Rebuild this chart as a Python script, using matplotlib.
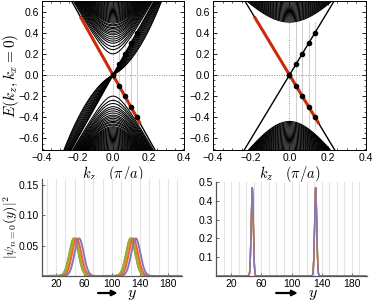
import numpy as np
import matplotlib
matplotlib.use("Agg")
import matplotlib.pyplot as plt

plt.rcParams['font.family'] = ['Liberation Sans', 'DejaVu Sans']
plt.rcParams['mathtext.fontset'] = 'cm'

# ---- data ----
# dots on the surface-state branches (kz, E)
dot_kz = [0.0, 0.033, 0.067, 0.1, 0.133]
dot_up = [0.0, 0.1, 0.2, 0.3, 0.4]
dot_dn = [0.0, -0.1, -0.2, -0.3, -0.4]
vline_kz = [0.033, 0.067, 0.1, 0.133]

# surface state velocity and red branch extent
v_surf = 3.0
red_kz = [-0.18, 0.15]

# left panel: bulk subband gaps at kz=0 (hyperbolas, velocity 3)
gaps_left = [0.2, 0.24, 0.27, 0.3, 0.32, 0.34, 0.36, 0.38, 0.395, 0.41,
             0.425, 0.44, 0.45, 0.465, 0.475, 0.49, 0.5, 0.51, 0.52, 0.53,
             0.54, 0.55, 0.56, 0.57, 0.58, 0.59, 0.6, 0.61, 0.62, 0.63,
             0.64, 0.65, 0.66, 0.67, 0.68, 0.69, 0.7, 0.71]
# left panel: fan of bulk curves through origin, E = a*k + b*k*|k|
fan_a = [0.84, 1.0, 1.2, 1.4, 1.6, 1.8, 2.0, 2.2, 2.4, 2.6, 2.8]
fan_b = [6.25, 5.8, 5.3, 4.8, 4.3, 3.8, 3.2, 2.6, 2.0, 1.4, 0.8]

# right panel: gapped bulk blocks
gaps_right_up = [0.5, 0.51, 0.52, 0.53, 0.54, 0.55, 0.56, 0.57, 0.58, 0.59,
                 0.6, 0.61, 0.62, 0.63, 0.64, 0.65, 0.66, 0.67, 0.68, 0.69,
                 0.7, 0.71]
gaps_right_dn = [0.44, 0.45, 0.46, 0.47, 0.48, 0.49, 0.5, 0.51, 0.52, 0.53,
                 0.54, 0.55, 0.56, 0.57, 0.58, 0.59, 0.6, 0.61, 0.62, 0.63,
                 0.64, 0.65, 0.66, 0.67, 0.68, 0.69, 0.7, 0.71, 0.72]
v_right_up = 2.2
v_right_dn = 2.6

# bottom panels: |psi|^2 peaks (centre pairs, height, width) per kz
mm_colors = ['#5e81b5', '#e19c24', '#8fb032', '#eb6235', '#8778b3']
left_c1 = [46, 47, 45.5, 49.5, 53]
left_c2 = [127, 128, 126.5, 130.5, 134]
left_h = 0.062
left_w = 6.5
right_c1 = [48, 48, 48, 48, 48]
right_c2 = [132, 132, 132, 132, 132]
right_h = 0.47
right_w = 1.4

k = np.linspace(-0.4, 0.4, 801)
y = np.linspace(0, 200, 2001)

fig = plt.figure(figsize=(3.74, 3.02), dpi=100)
ax1 = fig.add_axes([42/374, 1-150/302, 142/374, 149/302])
ax2 = fig.add_axes([213/374, 1-150/302, 153/374, 149/302])
ax3 = fig.add_axes([42/374, 1-276/302, 140/374, 97/302])
ax4 = fig.add_axes([216/374, 1-276/302, 151/374, 94/302])


def top_common(ax):
    ax.axhline(0, color='#888888', lw=0.7, ls=(0, (1, 1.5)), zorder=1)
    ax.plot([0, 0], [-0.5, 0.5], color='#999999', lw=0.7, ls=(0, (1, 1.5)), zorder=1)
    for kv in vline_kz:
        ax.plot([kv, kv], [-0.5, 0.5], color='#d0d0d0', lw=0.8, zorder=1)
    kk = np.array(red_kz)
    ax.plot(kk, -v_surf*kk, color='#cc2a0a', lw=2.2, zorder=4)
    ax.plot(dot_kz, dot_up, 'o', color='black', ms=3.0, zorder=5)
    ax.plot(dot_kz, dot_dn, 'o', color='black', ms=3.0, zorder=5)
    ax.set_xlim(-0.4, 0.4)
    ax.set_ylim(-0.71, 0.7)
    ax.set_xticks([-0.4, -0.2, 0.0, 0.2, 0.4])
    ax.set_yticks([-0.6, -0.4, -0.2, 0.0, 0.2, 0.4, 0.6])
    ax.set_xticklabels(['\u22120.4', '\u22120.2', '0.0', '0.2', '0.4'])
    ax.set_yticklabels(['\u22120.6', '\u22120.4', '\u22120.2', '0.0', '0.2', '0.4', '0.6'])
    ax.set_xticks(np.arange(-0.4, 0.41, 0.05), minor=True)
    ax.set_yticks(np.arange(-0.7, 0.71, 0.05), minor=True)
    ax.tick_params(which='major', direction='in', length=3, width=0.6,
                   top=True, right=True, labelsize=7.5, pad=2)
    ax.tick_params(which='minor', direction='in', length=1.5, width=0.5,
                   top=True, right=True)
    for s in ax.spines.values():
        s.set_linewidth(0.7)
    ax.set_xlabel(r'$k_z\quad(\pi/a)$', fontsize=10.5, labelpad=1)


# left top panel
for m in gaps_left:
    e = np.sqrt(m**2 + (v_surf*k)**2)
    ax1.plot(k, e, color='black', lw=0.75, zorder=2)
    ax1.plot(k, -e, color='black', lw=0.75, zorder=2)
for a, b in zip(fan_a, fan_b):
    ax1.plot(k, a*k + b*k*np.abs(k), color='black', lw=0.75, zorder=2)
ax1.plot(k, v_surf*k, color='black', lw=1.0, zorder=3)
ax1.plot(k, -v_surf*k, color='black', lw=1.0, zorder=3)
top_common(ax1)
ax1.set_ylabel(r'$E(k_z,k_x=0)$', fontsize=11)
ax1.yaxis.set_label_coords(-0.15, 0.5)

# right top panel
for m in gaps_right_up:
    ax2.plot(k, np.sqrt(m**2 + (v_right_up*k)**2), color='black', lw=0.75, zorder=2)
for m in gaps_right_dn:
    ax2.plot(k, -np.sqrt(m**2 + (v_right_dn*k)**2), color='black', lw=0.75, zorder=2)
ax2.plot(k, v_surf*k, color='black', lw=1.0, zorder=3)
ax2.plot(k, -v_surf*k, color='black', lw=1.0, zorder=3)
top_common(ax2)


def bottom_common(ax, ymax, yt, ytl, grid_x):
    for gx in grid_x:
        ax.axvline(gx, color='#e4e4e4', lw=0.8, zorder=0)
    ax.set_xlim(0, 200)
    ax.set_ylim(0, ymax)
    ax.set_xticks([20, 60, 100, 140, 180])
    ax.set_yticks(yt)
    ax.set_yticklabels(ytl)
    ax.spines['top'].set_visible(False)
    ax.spines['right'].set_visible(False)
    for s in ['left', 'bottom']:
        ax.spines[s].set_color('#555555')
        ax.spines[s].set_linewidth(0.9)
    ax.tick_params(direction='in', length=2.5, width=0.6, labelsize=7.5,
                   pad=2, color='#555555')


# bottom left
for c, c1, c2 in zip(mm_colors, left_c1, left_c2):
    psi = left_h*(np.exp(-(y-c1)**2/(2*left_w**2)) + np.exp(-(y-c2)**2/(2*left_w**2)))
    ax3.plot(y, psi, color=c, lw=1.4, zorder=2)
bottom_common(ax3, 0.16, [0.05, 0.10, 0.15], ['0.05', '0.10', '0.15'],
              np.arange(20/3, 200, 40/3))
ax3.set_ylabel(r'$|\psi_{n=0}(y)|^2$', fontsize=10)
ax3.yaxis.set_label_coords(-0.16, 0.5)

# bottom right
for c, c1, c2 in zip(mm_colors, right_c1, right_c2):
    psi = right_h*(np.exp(-(y-c1)**2/(2*right_w**2)) + np.exp(-(y-c2)**2/(2*right_w**2)))
    ax4.plot(y, psi, color=c, lw=1.0, zorder=2)
bottom_common(ax4, 0.5, [0.1, 0.2, 0.3, 0.4, 0.5], ['0.1', '0.2', '0.3', '0.4', '0.5'],
              np.arange(10, 200, 10))

# arrow + y labels under bottom panels (placed in pixels below the axes)
for ax, hpx in ((ax3, 97), (ax4, 94)):
    ax.annotate('', xy=(0.56, -17/hpx), xytext=(0.38, -17/hpx), xycoords='axes fraction',
                arrowprops=dict(arrowstyle='-|>', color='black', lw=1.6,
                                mutation_scale=8))
    ax.text(0.61, -21/hpx, r'$y$', transform=ax.transAxes, fontsize=11.5,
            va='baseline', ha='left')

fig.savefig('out.png', dpi=100)
